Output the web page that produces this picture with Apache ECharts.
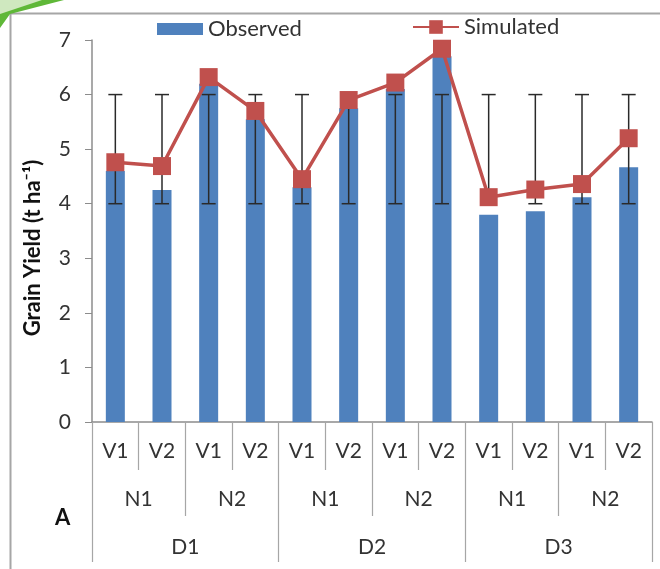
<!DOCTYPE html>
<html>
<head>
<meta charset="utf-8">
<script src="https://cdn.jsdelivr.net/npm/echarts@6/dist/echarts.min.js"></script>
<style>
html,body{margin:0;padding:0;background:#fff;}
#chart{width:660px;height:569px;}
</style>
</head>
<body>
<div id="chart"></div>
<script>
// ---- data ----
const vLabels = ['V1','V2','V1','V2','V1','V2','V1','V2','V1','V2','V1','V2'];
const nLabels = ['N1','N2','N1','N2','N1','N2'];
const dLabels = ['D1','D2','D3'];
const observed  = [4.6, 4.25, 6.2, 5.55, 4.3, 5.75, 6.1, 6.7, 3.8, 3.86, 4.12, 4.67];
const simulated = [4.76, 4.69, 6.32, 5.70, 4.45, 5.9, 6.22, 6.84, 4.12, 4.26, 4.36, 5.2];
const errLow  = [4,4,4,4,4,4,4,4,4,4,4,4];
const errHigh = [6,6,6,6,6,6,6,6,6,6,6,6];
const yTicks = [0,1,2,3,4,5,6,7];
const yTitle = 'Grain Yield (t ha⁻¹)';

const FONT = 'Lato';
const axisGray = '#8c8c8c';
const chart = echarts.init(document.getElementById('chart'), null, {renderer:'canvas'});

const catIds = vLabels.map((v,i)=> i + '|' + v);
const errData = vLabels.map((v,i)=>[i, errLow[i], errHigh[i]]);

const option = {
  animation:false,
  textStyle:{fontFamily:FONT},
  graphic:[
    {type:'rect', left:8, top:11, shape:{x:0,y:0,width:700,height:600}, style:{fill:'none', stroke:'#a6a6a6', lineWidth:2}, z:-1},
    {type:'polygon', shape:{points:[[0,0],[64,0],[10,14],[0,28]]}, style:{fill:'#5fb838'}},
    {type:'polygon', shape:{points:[[0,0],[42,0],[0,14]]}, style:{fill:'#cfe8bf'}},
    {type:'text', x:55, y:507, style:{text:'A', font:'bold 22px Lato', fill:'#111'}},
    {type:'text', x:33, y:248, rotation:Math.PI/2,
     style:{text:yTitle, font:'bold 22px Lato', fill:'#111', align:'center', verticalAlign:'middle'}}
  ],
  legend:[
    {data:['Observed'], left:152, top:13, itemWidth:46, itemHeight:12, icon:'rect',
     textStyle:{fontFamily:FONT, fontSize:22, color:'#333'}},
    {data:['Simulated'], left:407, top:11, itemWidth:46, itemHeight:17,
     textStyle:{fontFamily:FONT, fontSize:22, color:'#333'}}
  ],
  grid:{left:92, right:8, top:40, bottom:147, containLabel:false},
  xAxis:[
    {type:'category', data:catIds, position:'bottom',
     axisLine:{show:true, lineStyle:{color:axisGray, width:1.5}},
     axisTick:{show:true, interval:0, length:48, lineStyle:{color:'#a6a6a6', width:1.2}},
     axisLabel:{interval:0, margin:19, fontSize:21, color:'#333', fontFamily:FONT,
       formatter:(v)=>v.split('|')[1]}},
    {type:'category', data:nLabels, position:'bottom', offset:48,
     axisLine:{show:false},
     axisTick:{show:true, interval:0, length:46, lineStyle:{color:'#a6a6a6', width:1.2}},
     axisLabel:{interval:0, margin:19, fontSize:21, color:'#333', fontFamily:FONT}},
    {type:'category', data:dLabels, position:'bottom', offset:94,
     axisLine:{show:false},
     axisTick:{show:true, interval:0, length:46, lineStyle:{color:'#a6a6a6', width:1.2}},
     axisLabel:{interval:0, margin:21, fontSize:21, color:'#333', fontFamily:FONT}}
  ],
  yAxis:{type:'value', min:yTicks[0], max:yTicks[yTicks.length-1], interval:1,
    axisLine:{show:true, lineStyle:{color:axisGray, width:1.5}},
    axisTick:{show:true, length:7, lineStyle:{color:axisGray}},
    splitLine:{show:false},
    axisLabel:{fontSize:21, color:'#333', fontFamily:FONT, margin:21}},
  series:[
    {name:'Observed', type:'bar', xAxisIndex:0, data:observed, barWidth:19,
     itemStyle:{color:'#4f81bd'}, z:2},
    {type:'custom', xAxisIndex:0, data:errData, z:3, silent:true,
     encode:{x:0, y:[1,2]},
     renderItem:function(params, api){
       const lo = api.coord([api.value(0), api.value(1)]);
       const hi = api.coord([api.value(0), api.value(2)]);
       const w = 7;
       const st = {stroke:'#2a2a2a', lineWidth:1.5};
       return {type:'group', children:[
         {type:'line', shape:{x1:lo[0], y1:lo[1], x2:hi[0], y2:hi[1]}, style:st},
         {type:'line', shape:{x1:lo[0]-w, y1:lo[1], x2:lo[0]+w, y2:lo[1]}, style:st},
         {type:'line', shape:{x1:hi[0]-w, y1:hi[1], x2:hi[0]+w, y2:hi[1]}, style:st}
       ]};
     }},
    {name:'Simulated', type:'line', xAxisIndex:0, data:simulated, z:4,
     symbol:'rect', symbolSize:18,
     lineStyle:{color:'#c0504d', width:3.5},
     itemStyle:{color:'#c0504d'}}
  ]
};
chart.setOption(option);
</script>
</body>
</html>
